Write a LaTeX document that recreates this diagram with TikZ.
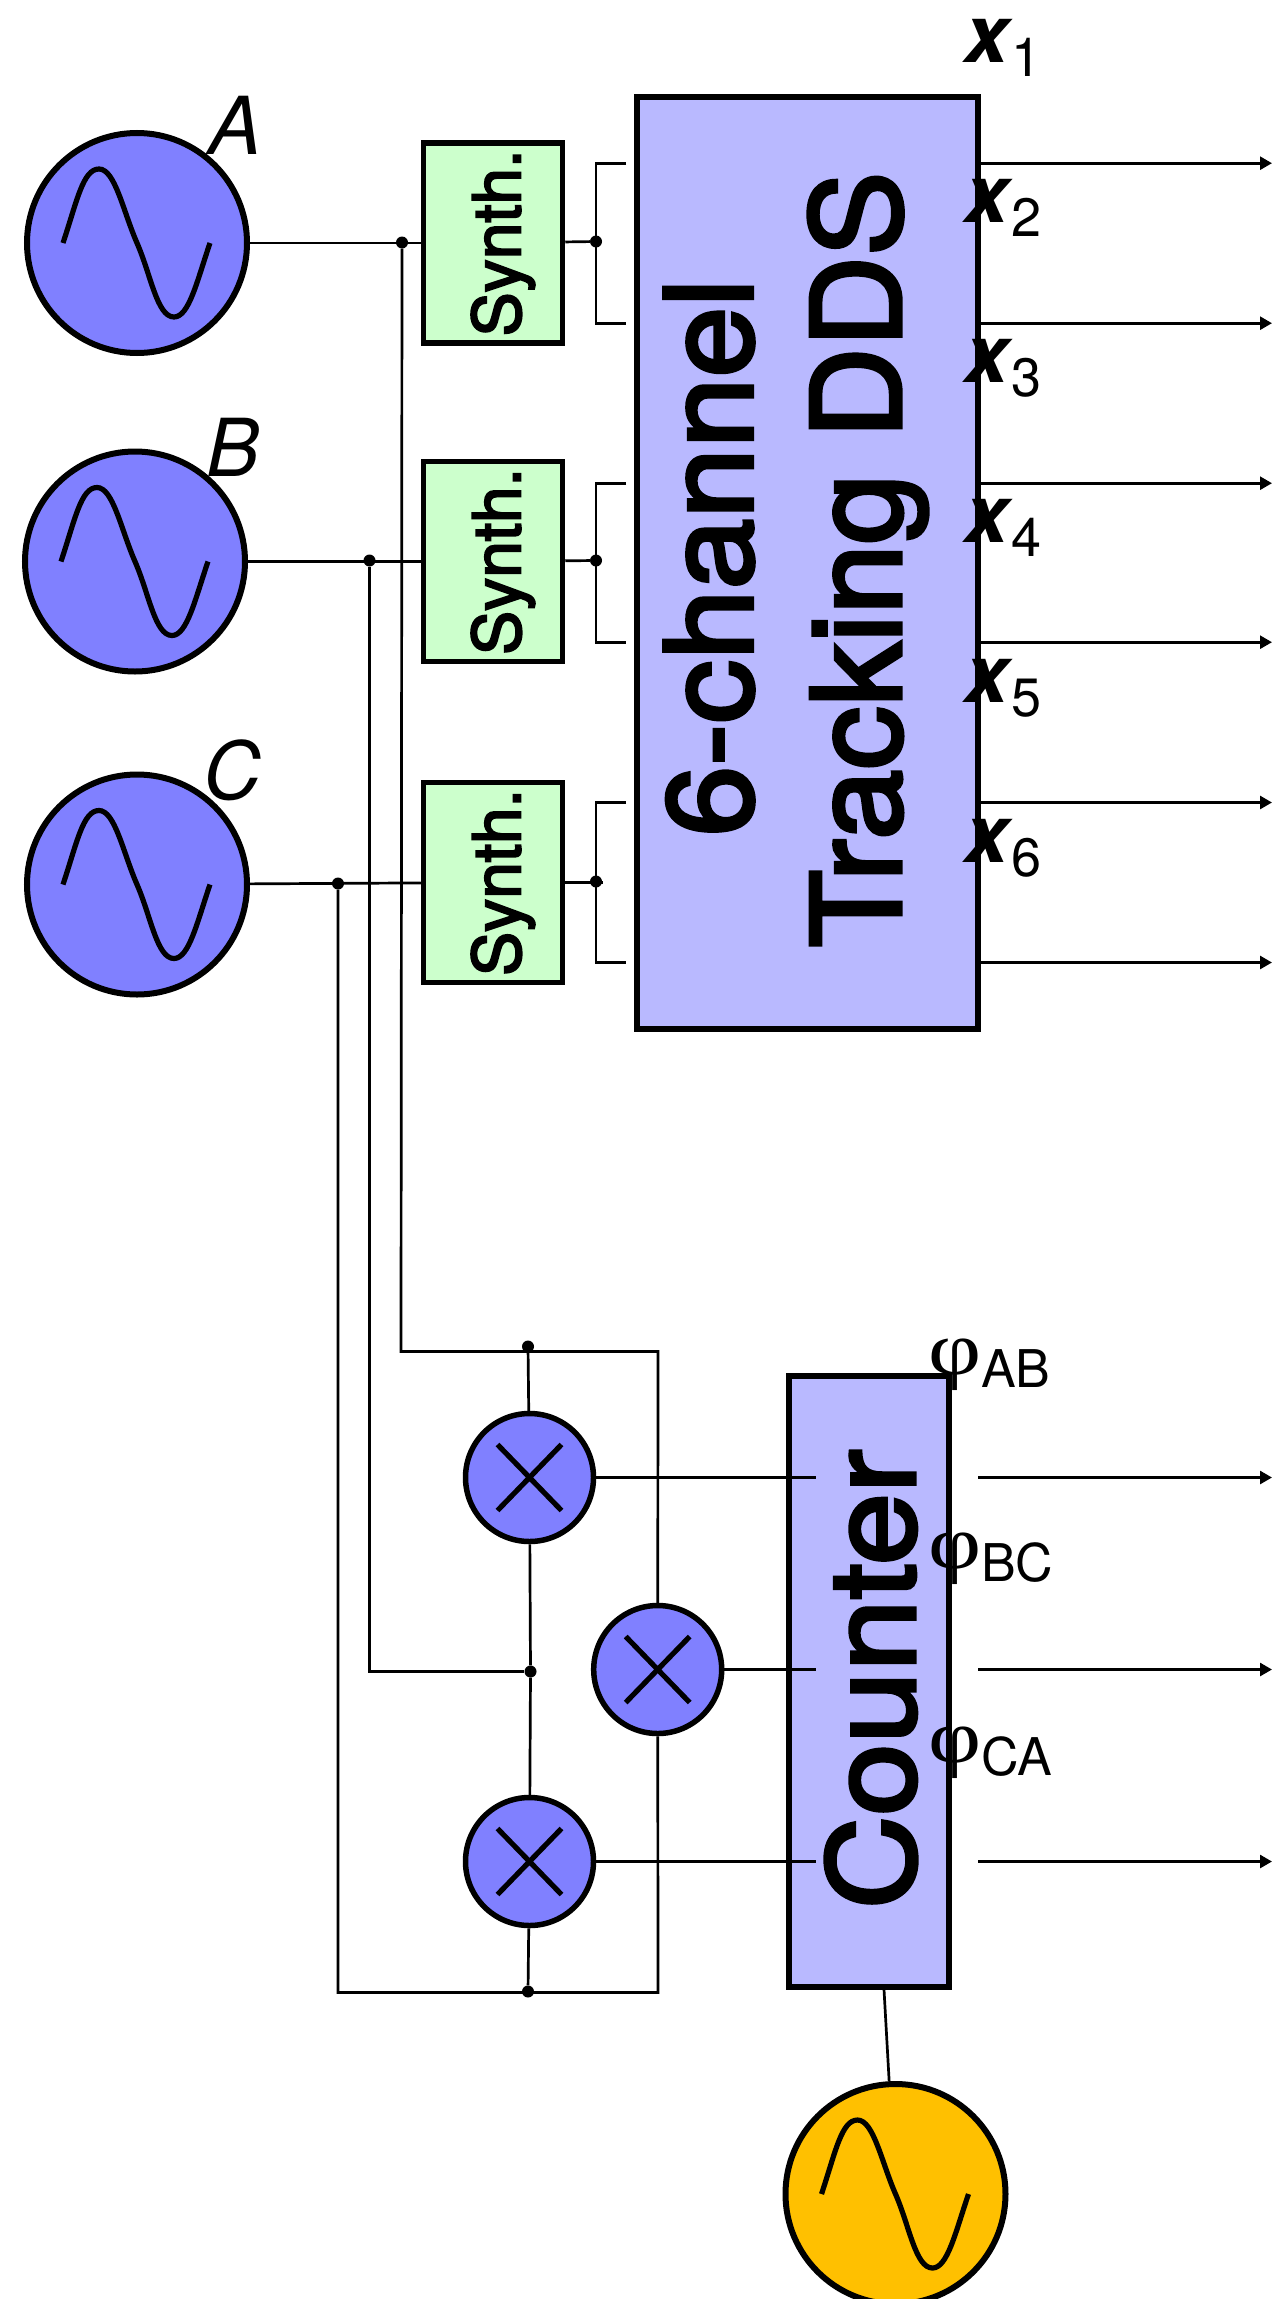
\documentclass[tikz,border=0pt]{standalone}
\usepackage{fontspec}
\usetikzlibrary{arrows.meta}
\setmainfont{TeX Gyre Heros}
\newfontfamily\medfont[FakeBold=3]{TeX Gyre Heros}
\newfontfamily\phifont{Liberation Serif}
\newcommand{\fsz}[1]{\fontsize{#1pt}{#1pt}\selectfont}
\definecolor{osc}{HTML}{8080FF}
\definecolor{bigbox}{HTML}{B9B9FF}
\definecolor{syn}{HTML}{CCFFCC}
\definecolor{gold}{HTML}{FFC000}
\tikzset{
  oscnode/.style={circle,draw=black,line width=6pt,fill=osc,minimum size=220pt,inner sep=0pt},
  mixnode/.style={circle,draw=black,line width=5.5pt,fill=osc,minimum size=128pt,inner sep=0pt},
  wave/.style={line width=5.2pt},
  synbox/.style={draw=black,line width=5.5pt,fill=syn,minimum width=139pt,minimum height=200pt,inner sep=0pt},
  blockbox/.style={draw=black,line width=6pt,fill=bigbox,inner sep=0pt},
  wire/.style={line width=2.7pt},
  output/.style={wire,-{Triangle[length=12pt,width=13pt]}},
  jdot/.style={circle,fill=black,inner sep=0pt,minimum size=12pt},
  lab/.style={inner sep=0pt,anchor=base west},
}
\newcommand{\sinewave}[1]{\draw[wave,shift={(#1)}] (-74,0) .. controls (-60,-42) and (-54,-74) .. (-38,-74) .. controls (-22,-74) and (-14,-32) .. (0,0) .. controls (14,32) and (20,74) .. (37,74) .. controls (52,74) and (60,38) .. (73,0);}
\newcommand{\crossmark}[1]{\draw[wave,shift={(#1)}] (-32,-33) -- (32,33) (-32,33) -- (32,-33);}
\newcommand{\xlab}[3]{\node[lab] (#1) at (964,#2) {\fsz{80}\bfseries\itshape x\hspace{3pt}\raisebox{-14pt}{\fsz{54}\normalfont #3}};}
\newcommand{\philab}[3]{\node[lab] (#1) at (928,#2) {{\phifont\fsz{92}\scalebox{1}[0.82]{φ}}\raisebox{-13pt}{\fsz{52}#3}};}
\begin{document}
\begin{tikzpicture}[x=1pt,y=-1pt]
\useasboundingbox (0,0) rectangle (1272,2299);
\clip (0,0) rectangle (1272,2299);
\begin{scope}[yshift=-1.5pt]
\node[blockbox,minimum width=341pt,minimum height=932pt] (dds) at (807.5,561) {};
\node[blockbox,minimum width=160pt,minimum height=611pt] (cnt) at (869,1680) {};

\node[oscnode] (A) at (137,241.5) {};
\node[oscnode] (B) at (135,560) {};
\node[oscnode] (C) at (137,883) {};
\node[oscnode,fill=gold] (L) at (895.5,2192.5) {};
\sinewave{A}\sinewave{B}\sinewave{C}\sinewave{L}

\node[synbox] (S1) at (493,241.5) {};
\node[synbox] (S2) at (493,560) {};
\node[synbox] (S3) at (493,881) {};
\foreach \s in {S1,S2,S3}
  \node[rotate=90,inner sep=0pt] at ([xshift=10pt]\s) {\medfont\fsz{66}Synth.};

\node[mixnode] (M1) at (529.5,1476) {};
\node[mixnode] (M2) at (657.7,1668) {};
\node[mixnode] (M3) at (529.5,1860) {};
\crossmark{M1}\crossmark{M2}\crossmark{M3}

% junctions
\node[jdot] (ja) at (402,241) {};
\node[jdot] (jb) at (369.5,559) {};
\node[jdot] (jc) at (338,882) {};
\node[jdot] (o1) at (596,240) {};
\node[jdot] (o2) at (596,559) {};
\node[jdot] (o3) at (596,880) {};
\node[jdot] (t1) at (528,1345) {};
\node[jdot] (m1) at (530.5,1670) {};
\node[jdot] (b1) at (528,1990) {};

\coordinate (ta) at (401,1350);
\coordinate (tr) at (658,1350);
\coordinate (bl) at (338,1991);
\coordinate (br) at (658,1991);
\coordinate (mb) at (369.5,1670);
\coordinate (ctap) at (884,1988);

% inputs
\draw[wire] (A) -- (S1);
\draw[wire] (B) -- (S2);
\draw[wire] (C) -- (S3);
\draw[wire] (S1) -- (o1);
\draw[wire] (S2) -- (o2);
\draw[wire] (S3) -- ++(110,0) coordinate (s3e);

% mixers feed
\draw[wire] (ja) -- (ta) -- (tr) -- (M2);
\draw[wire] (M2) -- (br) -- (bl) -- (jc);
\draw[wire] (jb) -- (mb) -- (m1);
\draw[wire] (t1) -- (M1);
\draw[wire] (M1) -- (m1) -- (M3);
\draw[wire] (M3) -- (b1);
\draw[wire] (ctap) -- (L);

% brackets and outputs
\foreach \i/\yt/\yb/\o in {1/161.7/321.7/o1,2/481.7/640.7/o2,3/801/961/o3}{
  \coordinate (bt\i) at (626,\yt);
  \coordinate (bb\i) at (626,\yb);
  \draw[wire] (bt\i) -- (\o |- bt\i) -- (\o |- bb\i) -- (bb\i);
}
\foreach \yy in {161.7,321.7,481.7,640.7,801,961}{
  \coordinate (oe) at (1272,\yy);
  \draw[output] (dds.east |- oe) -- (oe);
}
% counter
\foreach \m/\yy in {M1/1476,M2/1668,M3/1860}{
  \coordinate (ci) at (816,\yy);
  \coordinate (cs) at (978,\yy);
  \coordinate (ce) at (1272,\yy);
  \draw[wire] (\m) -- (ci);
  \draw[output] (cs) -- (ce);
}

% big texts
\node[rotate=90,inner sep=0pt] at (709,556) {\scalebox{1.05}[1]{\medfont\fsz{121}6-channel}};
\node[rotate=90,inner sep=0pt] at (868,558) {\scalebox{1.02}[1]{\medfont\fsz{124}Tracking DDS}};
\node[rotate=90,inner sep=0pt] at (871,1678) {\scalebox{1.08}[1]{\medfont\fsz{120}Counter}};

% labels
\node[lab] (la) at (208,153) {\fsz{80}\itshape A};
\node[lab] (lb) at (206,475) {\fsz{80}\itshape B};
\node[lab] (lc) at (203,798) {\fsz{80}\itshape C};

\xlab{x1}{61}{1}
\xlab{x2}{221}{2}
\xlab{x3}{381}{3}
\xlab{x4}{541}{4}
\xlab{x5}{701}{5}
\xlab{x6}{861}{6}

\philab{p1}{1373}{AB}
\philab{p2}{1567}{BC}
\philab{p3}{1761}{CA}
\end{scope}
\end{tikzpicture}
\end{document}
